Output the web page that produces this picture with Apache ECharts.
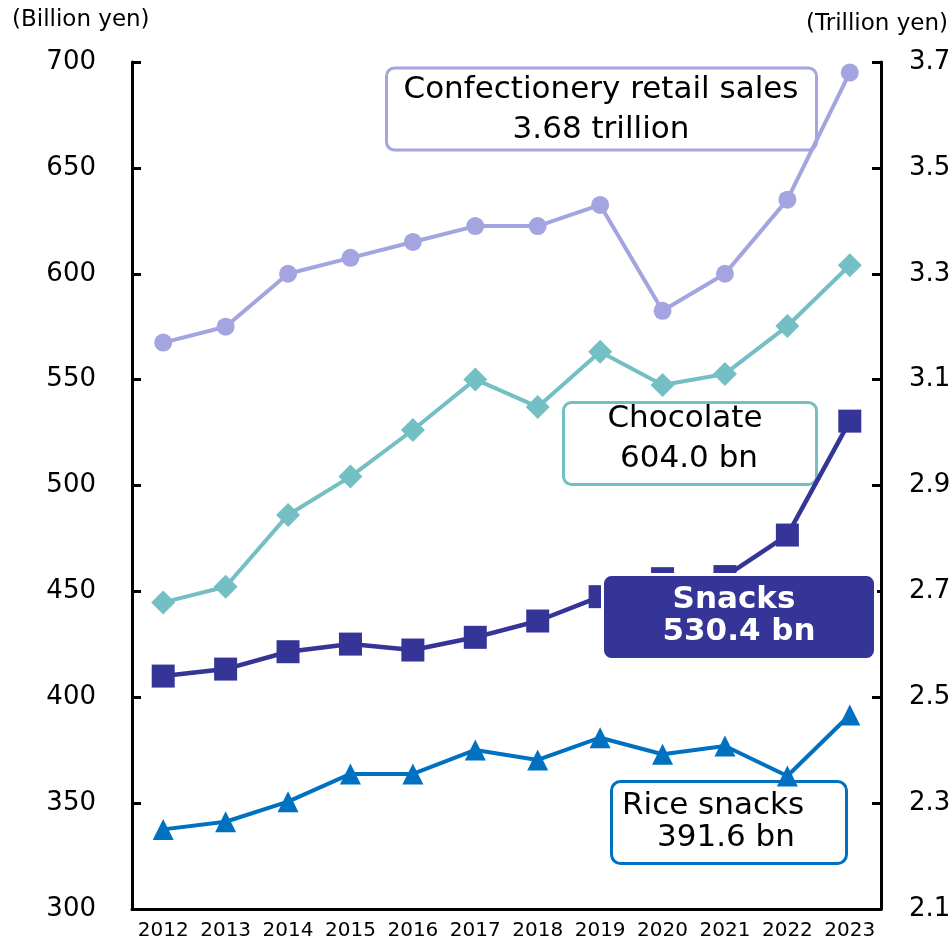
<!DOCTYPE html>
<html>
<head>
<meta charset="utf-8">
<script src="https://cdn.jsdelivr.net/npm/echarts@6/dist/echarts.min.js"></script>
<style>
  html, body { margin: 0; padding: 0; background: #fff; }
  #chart { width: 952px; height: 943px; }
</style>
</head>
<body>
<div id="chart"></div>
<script>
// Japanese confectionery market, 2012-2023
const years = ['2012', '2013', '2014', '2015', '2016', '2017', '2018', '2019', '2020', '2021', '2022', '2023'];

// Total confectionery retail sales (trillion yen, right axis)
const retailTotal = [3.17, 3.20, 3.30, 3.33, 3.36, 3.39, 3.39, 3.43, 3.23, 3.30, 3.44, 3.68];
// Category sales (billion yen, left axis)
const chocolate = [444.8, 452.2, 486.1, 504.2, 526.2, 550.1, 537.1, 563.2, 547.5, 552.7, 575.3, 604.0];
const snacks = [410.0, 413.3, 421.5, 425.1, 422.3, 428.3, 436.0, 447.5, 456.0, 457.0, 476.6, 530.4];
const riceSnacks = [337.6, 341.2, 350.7, 363.8, 363.8, 375.1, 370.4, 380.9, 373.1, 377.0, 362.8, 391.6];

const leftTicks = { min: 300, max: 700, step: 50 };
const rightTicks = { min: 2.1, max: 3.7, step: 0.2 };

const FONT = '"DejaVu Sans", Verdana, sans-serif';
const C_TOTAL = '#A4A4E0';
const C_CHOC = '#73BFC3';
const C_SNACK = '#353598';
const C_RICE = '#0070C0';

const last = a => a[a.length - 1];

const chart = echarts.init(document.getElementById('chart'), null, { renderer: 'canvas' });

function labelText(x, y, text, opts) {
  const o = opts || {};
  return {
    type: 'text', x: x, y: y, z: o.z || 20,
    style: {
      text: text, fill: o.fill || '#000', font: (o.font || '30px ') + FONT,
      align: o.align || 'center', verticalAlign: 'middle'
    }
  };
}

const axisLineStyle = { color: '#000', width: 3 };

chart.setOption({
  animation: false,
  backgroundColor: '#fff',
  grid: { left: 132, right: 71, top: 62, bottom: 34, containLabel: false, outerBoundsMode: 'none' },
  xAxis: {
    type: 'category',
    data: years,
    boundaryGap: true,
    axisLine: { lineStyle: axisLineStyle },
    axisTick: { inside: true, length: 9, lineStyle: { color: '#000', width: 3 } },
    axisLabel: { color: '#000', fontFamily: FONT, fontSize: 20, margin: 12, interval: 0 },
    splitLine: { show: false }
  },
  yAxis: [
    {
      type: 'value', position: 'left',
      min: leftTicks.min, max: leftTicks.max, interval: leftTicks.step,
      axisLine: { show: true, lineStyle: axisLineStyle },
      axisTick: { show: true, inside: true, length: 9, lineStyle: { color: '#000', width: 3 } },
      axisLabel: { color: '#000', fontFamily: FONT, fontSize: 26, margin: 36 },
      splitLine: { show: false }
    },
    {
      type: 'value', position: 'right',
      min: rightTicks.min, max: rightTicks.max, interval: rightTicks.step,
      axisLine: { show: true, lineStyle: axisLineStyle },
      axisTick: { show: true, inside: true, length: 9, lineStyle: { color: '#000', width: 3 } },
      axisLabel: { color: '#000', fontFamily: FONT, fontSize: 26, margin: 28,
        formatter: v => v.toFixed(1) },
      splitLine: { show: false }
    }
  ],
  series: [
    {
      name: 'Confectionery retail sales', type: 'line', yAxisIndex: 1, data: retailTotal,
      symbol: 'circle', symbolSize: 18, z: 3,
      lineStyle: { color: C_TOTAL, width: 4 }, itemStyle: { color: C_TOTAL }
    },
    {
      name: 'Chocolate', type: 'line', yAxisIndex: 0, data: chocolate,
      symbol: 'diamond', symbolSize: 24, z: 3,
      lineStyle: { color: C_CHOC, width: 4 }, itemStyle: { color: C_CHOC }
    },
    {
      name: 'Snacks', type: 'line', yAxisIndex: 0, data: snacks,
      symbol: 'rect', symbolSize: 23, z: 3,
      lineStyle: { color: C_SNACK, width: 4.5 }, itemStyle: { color: C_SNACK }
    },
    {
      name: 'Rice snacks', type: 'line', yAxisIndex: 0, data: riceSnacks,
      symbol: 'triangle', symbolSize: 21, z: 3,
      lineStyle: { color: C_RICE, width: 4 }, itemStyle: { color: C_RICE }
    }
  ],
  graphic: [
    // unit captions
    labelText(12, 20, '(Billion yen)', { font: '23px ', align: 'left' }),
    labelText(948, 24, '(Trillion yen)', { font: '23px ', align: 'right' }),

    // total retail sales callout
    { type: 'rect', z: 1, shape: { x: 386.5, y: 68, width: 430, height: 82, r: 8 },
      style: { fill: '#fff', stroke: C_TOTAL, lineWidth: 3 } },
    labelText(601, 90, 'Confectionery retail sales', { font: '31px ' }),
    labelText(601, 130, last(retailTotal).toFixed(2) + ' trillion', { font: '31px ' }),

    // chocolate callout
    { type: 'rect', z: 1, shape: { x: 563.5, y: 402.5, width: 253, height: 82, r: 8 },
      style: { fill: '#fff', stroke: C_CHOC, lineWidth: 3 } },
    labelText(685, 419, 'Chocolate', { font: '31px ' }),
    labelText(689, 459, last(chocolate).toFixed(1) + ' bn', { font: '31px ' }),

    // snacks callout (drawn above the lines)
    { type: 'rect', z: 30, shape: { x: 602.5, y: 574.5, width: 273, height: 85, r: 9 },
      style: { fill: C_SNACK, stroke: '#fff', lineWidth: 3 } },
    labelText(734, 600, 'Snacks', { z: 31, fill: '#fff', font: 'bold 31px ' }),
    labelText(739, 632, last(snacks).toFixed(1) + ' bn', { z: 31, fill: '#fff', font: 'bold 31px ' }),

    // rice snacks callout
    { type: 'rect', z: 1, shape: { x: 611.5, y: 781.5, width: 235, height: 82, r: 9 },
      style: { fill: '#fff', stroke: C_RICE, lineWidth: 3 } },
    labelText(622, 806, 'Rice snacks', { font: '31px ', align: 'left' }),
    labelText(657, 838, last(riceSnacks).toFixed(1) + ' bn', { font: '31px ', align: 'left' })
  ]
});
</script>
</body>
</html>
